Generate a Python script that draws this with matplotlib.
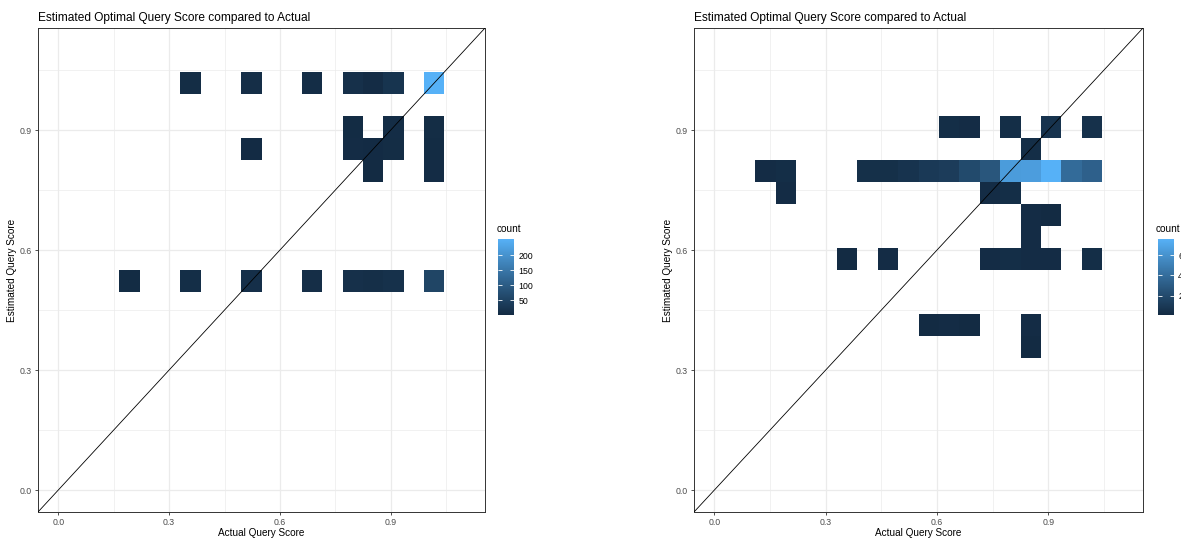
import numpy as np
import matplotlib
matplotlib.use("Agg")
import matplotlib.pyplot as plt
from matplotlib.colors import ListedColormap

plt.rcParams['font.family'] = ['Liberation Sans', 'DejaVu Sans']

# ---------------- data (bin centres, bin width 0.055) ----------------
title = "Estimated Optimal Query Score compared to Actual"
x_label = "Actual Query Score"
y_label = "Estimated Query Score"
tick_values = [0.0, 0.3, 0.6, 0.9]
tick_labels = ["0.0", "0.3", "0.6", "0.9"]

left_x = [0.3575, 0.5225, 0.6875, 0.7975, 0.8525, 0.9075, 1.0175,
          0.7975, 0.9075, 1.0175,
          0.5225, 0.7975, 0.8525, 0.9075, 1.0175,
          0.8525, 1.0175,
          0.1925, 0.3575, 0.5225, 0.6875, 0.7975, 0.8525, 0.9075, 1.0175]
left_y = [1.0175] * 7 + [0.9075] * 3 + [0.8525] * 5 + [0.7975] * 2 + [0.5225] * 8
left_count = [5, 8, 6, 12, 4, 20, 254,
              3, 6, 5,
              2, 4, 2, 5, 3,
              1, 4,
              3, 7, 10, 8, 12, 9, 14, 55]
left_ticks = [50, 100, 150, 200]

right_x = [0.6325, 0.6875, 0.7975, 0.9075, 1.0175,
           0.8525,
           0.1375, 0.1925, 0.4125, 0.4675, 0.5225, 0.5775, 0.6325, 0.6875,
           0.7425, 0.7975, 0.8525, 0.9075, 0.9625, 1.0175,
           0.1925, 0.7425, 0.7975,
           0.8525, 0.9075,
           0.8525,
           0.3575, 0.4675, 0.7425, 0.7975, 0.8525, 0.9075, 1.0175,
           0.5775, 0.6325, 0.6875, 0.8525,
           0.8525]
right_y = ([0.9075] * 5 + [0.8525] * 1 + [0.7975] * 14 + [0.7425] * 3 +
           [0.6875] * 2 + [0.6325] * 1 + [0.5775] * 7 + [0.4125] * 4 + [0.3575] * 1)
right_count = [3, 2, 3, 6, 5,
               3,
               2, 3, 4, 4, 6, 10, 12, 20, 27, 65, 66, 76, 39, 33,
               2, 2, 3,
               2, 1,
               2,
               1, 2, 2, 3, 2, 2, 3,
               1, 2, 1, 2,
               1]
right_ticks = [20, 40, 60]

# ---------------- ggplot-like colour scale (Lab interpolation) ----------------
def _srgb_to_lab(rgb):
    c = np.asarray(rgb, float)
    lin = np.where(c <= 0.04045, c / 12.92, ((c + 0.055) / 1.055) ** 2.4)
    M = np.array([[0.4124564, 0.3575761, 0.1804375],
                  [0.2126729, 0.7151522, 0.0721750],
                  [0.0193339, 0.1191920, 0.9503041]])
    xyz = M @ lin / np.array([0.95047, 1.0, 1.08883])
    d = 6 / 29
    f = np.where(xyz > d ** 3, np.cbrt(xyz), xyz / (3 * d * d) + 4 / 29)
    return np.array([116 * f[1] - 16, 500 * (f[0] - f[1]), 200 * (f[1] - f[2])])


def _lab_to_srgb(lab):
    L, a, b = lab
    fy = (L + 16) / 116
    fx = fy + a / 500
    fz = fy - b / 200
    d = 6 / 29
    f = np.array([fx, fy, fz])
    xyz = np.where(f > d, f ** 3, 3 * d * d * (f - 4 / 29)) * np.array([0.95047, 1.0, 1.08883])
    Minv = np.array([[3.2404542, -1.5371385, -0.4985314],
                     [-0.9692660, 1.8760108, 0.0415560],
                     [0.0556434, -0.2040259, 1.0572252]])
    lin = Minv @ xyz
    lin = np.clip(lin, 0, 1)
    c = np.where(lin <= 0.0031308, 12.92 * lin, 1.055 * lin ** (1 / 2.4) - 0.055)
    return np.clip(c, 0, 1)


def _hex(h):
    return [int(h[i:i + 2], 16) / 255 for i in (1, 3, 5)]


lo, hi = _srgb_to_lab(_hex("#132B43")), _srgb_to_lab(_hex("#56B1F7"))
cmap = ListedColormap([_lab_to_srgb(lo + (hi - lo) * t) for t in np.linspace(0, 1, 256)])

# ---------------- figure ----------------
W, H = 1181, 540
fig = plt.figure(figsize=(W / 100, H / 100), dpi=100)

edges = np.arange(21) * 0.055
grey20, grey30, grey92 = "#333333", "#4D4D4D", "#EBEBEB"


def px_rect(x0, y0, x1, y1):
    return [x0 / W, 1 - y1 / H, (x1 - x0) / W, (y1 - y0) / H]


def panel(ax_rect, cax_rect, xs, ys, counts, cticks, cb_title_x):
    ax = fig.add_axes(px_rect(*ax_rect))
    Hc, _, _ = np.histogram2d(xs, ys, bins=[edges, edges], weights=counts)
    Hm = np.ma.masked_equal(Hc.T, 0)
    mesh = ax.pcolormesh(edges, edges, Hm, cmap=cmap, vmin=min(counts), vmax=max(counts),
                         shading="flat", zorder=2, edgecolors="none", antialiased=True)
    ax.axline((0, 0), slope=1, color="black", lw=0.6, zorder=3)
    ax.set_xlim(-0.055, 1.155)
    ax.set_ylim(-0.055, 1.155)
    ax.set_xticks(tick_values)
    ax.set_xticklabels(tick_labels)
    ax.set_yticks(tick_values)
    ax.set_yticklabels(tick_labels)
    minor = [0.15, 0.45, 0.75, 1.05]
    ax.set_xticks(minor, minor=True)
    ax.set_yticks(minor, minor=True)
    ax.grid(True, which="major", color=grey92, lw=0.9, zorder=0)
    ax.grid(True, which="minor", color=grey92, lw=0.5, zorder=0)
    ax.set_axisbelow(True)
    ax.tick_params(which="minor", length=0)
    ax.tick_params(which="major", length=2.5, width=0.6, color=grey20,
                   labelcolor=grey30, labelsize=6.3, pad=2.0)
    for s in ax.spines.values():
        s.set_color(grey20)
        s.set_linewidth(0.7)
    ax.set_title(title, loc="left", fontsize=8.6, color="black", pad=5)
    ax.set_xlabel(x_label, fontsize=7.2, labelpad=0.5)
    ax.set_ylabel(y_label, fontsize=7.2, labelpad=1.5)

    cax = fig.add_axes(px_rect(*cax_rect))
    cb = fig.colorbar(mesh, cax=cax)
    cb.outline.set_visible(False)
    cb.set_ticks(cticks)
    cax.tick_params(direction="in", color="white", length=3, width=0.6,
                    left=True, right=True, labelsize=6.3, labelcolor="black", pad=3)
    fig.text(cb_title_x / W, 1 - 229 / H, "count", fontsize=7.2, va="center", ha="left")
    return ax


panel((38, 28, 485, 512), (498, 239, 514, 315), left_x, left_y, left_count, left_ticks, 497)
panel((694, 28, 1143, 512), (1158, 239, 1174, 315), right_x, right_y, right_count, right_ticks, 1156)

fig.savefig("out.png", dpi=100)
